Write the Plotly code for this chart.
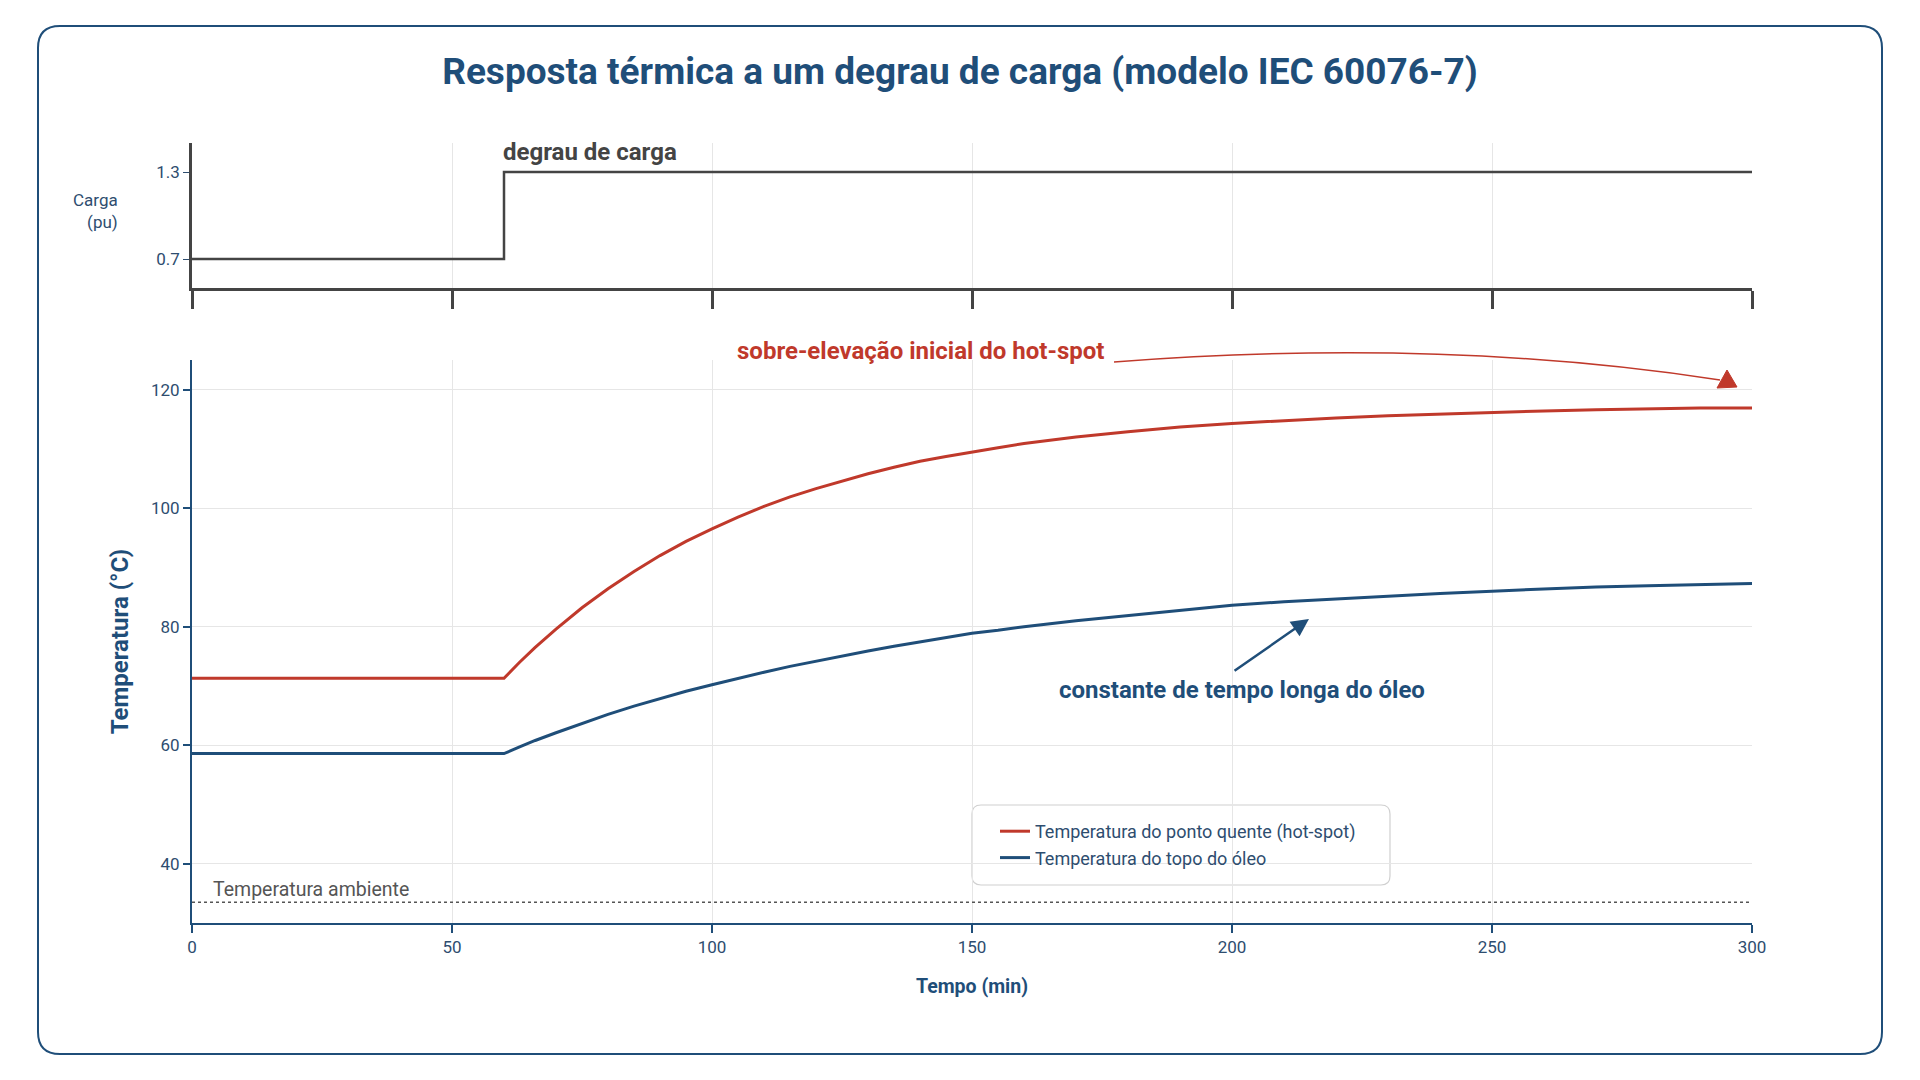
import plotly.graph_objects as go

# ---------------- data ----------------
time_load = [0, 60, 300]
load_pu = [0.7, 1.3, 1.3]

time_min = [0, 60, 63, 66, 70, 75, 80, 85, 90, 95, 100, 105, 110, 115, 120, 125, 130,
            135, 140, 145, 150, 155, 160, 170, 180, 190, 200, 210, 220, 230, 240, 250,
            260, 270, 280, 290, 300]
hot_spot = [71.3, 71.3, 74.0, 76.5, 79.6, 83.2, 86.4, 89.3, 92.0, 94.4, 96.5, 98.5,
            100.3, 101.9, 103.3, 104.6, 105.8, 106.9, 107.9, 108.7, 109.5, 110.2, 110.9,
            112.0, 112.9, 113.7, 114.3, 114.8, 115.2, 115.6, 115.9, 116.2, 116.4, 116.6,
            116.8, 116.9, 116.9]
top_oil = [58.6, 58.6, 59.7, 60.8, 62.1, 63.7, 65.2, 66.6, 67.9, 69.1, 70.2, 71.3,
           72.3, 73.3, 74.2, 75.1, 75.9, 76.7, 77.4, 78.1, 78.9, 79.4, 80.0, 81.0, 81.9,
           82.7, 83.6, 84.2, 84.7, 85.2, 85.6, 86.0, 86.4, 86.7, 86.9, 87.1, 87.3]
ambient_temp = 33.5

x_ticks = [0, 50, 100, 150, 200, 250, 300]
temp_ticks = [40, 60, 80, 100, 120]
load_ticks = [0.7, 1.3]
load_ticktext = ["0.7", "1.3"]

# ---------------- style ----------------
RED = "#c0392b"
BLUE = "#1f4e79"
SLATE = "#2e4d6f"
DARK = "#444444"
GRID = "#e6e6e6"
FONT = "Roboto, 'Open Sans', sans-serif"

W, H = 1920, 1080
ML, MR, MT, MB = 192, 168, 143, 157
PW, PH = W - ML - MR, H - MT - MB


def px(x):
    return (x - ML) / PW


def py(y):
    return (H - MB - y) / PH


def rrect(x0, y0, x1, y1, r):
    return (f"M{px(x0+r)},{py(y0)} L{px(x1-r)},{py(y0)} Q{px(x1)},{py(y0)} {px(x1)},{py(y0+r)} "
            f"L{px(x1)},{py(y1-r)} Q{px(x1)},{py(y1)} {px(x1-r)},{py(y1)} "
            f"L{px(x0+r)},{py(y1)} Q{px(x0)},{py(y1)} {px(x0)},{py(y1-r)} "
            f"L{px(x0)},{py(y0+r)} Q{px(x0)},{py(y0)} {px(x0+r)},{py(y0)} Z")


fig = go.Figure()

fig.add_trace(go.Scatter(x=time_load, y=load_pu, mode="lines", xaxis="x", yaxis="y",
                         line=dict(color=DARK, width=2.5, shape="hv"), showlegend=False,
                         hoverinfo="skip"))
fig.add_trace(go.Scatter(x=[time_min[0], time_min[-1]], y=[ambient_temp, ambient_temp],
                         mode="lines", xaxis="x2", yaxis="y2",
                         line=dict(color="#555555", width=1.5, dash="dot"), showlegend=False))
fig.add_trace(go.Scatter(x=time_min, y=hot_spot, mode="lines", xaxis="x2", yaxis="y2",
                         name="Temperatura do ponto quente (hot-spot)",
                         line=dict(color=RED, width=3)))
fig.add_trace(go.Scatter(x=time_min, y=top_oil, mode="lines", xaxis="x2", yaxis="y2",
                         name="Temperatura do topo do óleo",
                         line=dict(color=BLUE, width=3)))

top_dom = [py(288), 1.0]
bot_dom = [0.0, py(360)]

fig.update_layout(
    width=W, height=H,
    margin=dict(l=ML, r=MR, t=MT, b=MB),
    paper_bgcolor="white", plot_bgcolor="white",
    font=dict(family=FONT, color=SLATE),
    title=dict(text="<b>Resposta térmica a um degrau de carga (modelo IEC 60076-7)</b>",
               x=0.5, xref="container", xanchor="center",
               y=1 - 71 / H, yref="container", yanchor="middle",
               font=dict(size=37, color=BLUE, family=FONT)),
    xaxis=dict(domain=[0, 1], anchor="y", range=[0, 300], tickvals=x_ticks,
               showticklabels=False, ticks="outside", ticklen=18, tickwidth=2.5,
               tickcolor=DARK, showline=True, linecolor=DARK, linewidth=2.5,
               showgrid=True, gridcolor=GRID, gridwidth=1, zeroline=False),
    yaxis=dict(domain=top_dom, anchor="x", range=[0.5, 1.5], tickvals=load_ticks,
               ticktext=load_ticktext, ticks="outside", ticklen=6, tickcolor=SLATE,
               tickfont=dict(size=17, color=SLATE), showline=True, linecolor=DARK,
               linewidth=2.5, showgrid=False, zeroline=False),
    xaxis2=dict(domain=[0, 1], anchor="y2", range=[0, 300], tickvals=x_ticks,
                ticks="outside", ticklen=8, tickwidth=1.5, tickcolor=BLUE,
                tickfont=dict(size=17, color=SLATE), showline=True, linecolor=BLUE,
                linewidth=2, showgrid=True, gridcolor=GRID, gridwidth=1, zeroline=False,
                title=dict(text="<b>Tempo (min)</b>", standoff=23,
                           font=dict(size=19.5, color=BLUE))),
    yaxis2=dict(domain=bot_dom, anchor="x2", range=[30, 125], tickvals=temp_ticks,
                ticks="outside", ticklen=7, tickwidth=1.5, tickcolor=BLUE,
                tickfont=dict(size=17, color=SLATE), showline=True, linecolor=BLUE,
                linewidth=2, showgrid=True, gridcolor=GRID, gridwidth=1, zeroline=False,
                title=dict(text="<b>Temperatura (°C)</b>", standoff=16,
                           font=dict(size=24, color=BLUE))),
    legend=dict(x=px(995), y=py(813), xanchor="left", yanchor="top",
                bgcolor="rgba(0,0,0,0)", borderwidth=0,
                font=dict(size=18, color=SLATE), tracegroupgap=0),
    showlegend=True,
)

shapes = [
    # outer card border
    dict(type="path", xref="paper", yref="paper", path=rrect(38, 26, 1882, 1054, 22),
         line=dict(color=BLUE, width=2), fillcolor="rgba(0,0,0,0)", layer="below"),
    # legend box
    dict(type="path", xref="paper", yref="paper", path=rrect(972, 805, 1390, 885, 9),
         line=dict(color="#d0d0d0", width=1.2), fillcolor="white", layer="between"),
    # curved red arrow
    dict(type="path", xref="paper", yref="paper",
         path=f"M{px(1114)},{py(362)} Q{px(1440)},{py(337)} {px(1720)},{py(380)}",
         line=dict(color=RED, width=1.5), layer="above"),
    dict(type="path", xref="paper", yref="paper",
         path=f"M{px(1717)},{py(388)} L{px(1727)},{py(370)} L{px(1737)},{py(387)} Z",
         line=dict(color=RED, width=1), fillcolor=RED, layer="above"),
]
fig.update_layout(shapes=shapes)

annotations = [
    dict(text="Carga<br>(pu)", xref="paper", yref="paper", x=px(120), y=py(211),
         xanchor="right", yanchor="middle", align="right", showarrow=False,
         font=dict(size=17, color=SLATE)),
    dict(text="<b>degrau de carga</b>", xref="x", yref="y", x=time_load[1], y=load_pu[1],
         xanchor="left", yanchor="bottom", showarrow=False, xshift=-3, yshift=4,
         font=dict(size=24, color=DARK)),
    dict(text="<b>sobre-elevação inicial do hot-spot</b>", xref="paper", yref="paper",
         x=px(735), y=py(351), xanchor="left", yanchor="middle", showarrow=False,
         font=dict(size=24, color=RED)),
    dict(text="<b>constante de tempo longa do óleo</b>", xref="x2", yref="y2",
         x=202, y=69.4, xanchor="center", yanchor="middle", showarrow=False,
         font=dict(size=24, color=BLUE)),
    dict(text="", xref="x2", yref="y2", x=214.8, y=81.3, axref="x2", ayref="y2",
         ax=200.2, ay=72.4, showarrow=True, arrowhead=2, arrowsize=1.4,
         arrowwidth=2.5, arrowcolor=BLUE, standoff=0, startstandoff=0),
    dict(text="Temperatura ambiente", xref="x2", yref="y2", x=3.6, y=ambient_temp,
         xanchor="left", yanchor="bottom", showarrow=False, yshift=-1,
         font=dict(size=19.5, color="#555555")),
]
fig.update_layout(annotations=annotations)

fig.write_html("out.html")
